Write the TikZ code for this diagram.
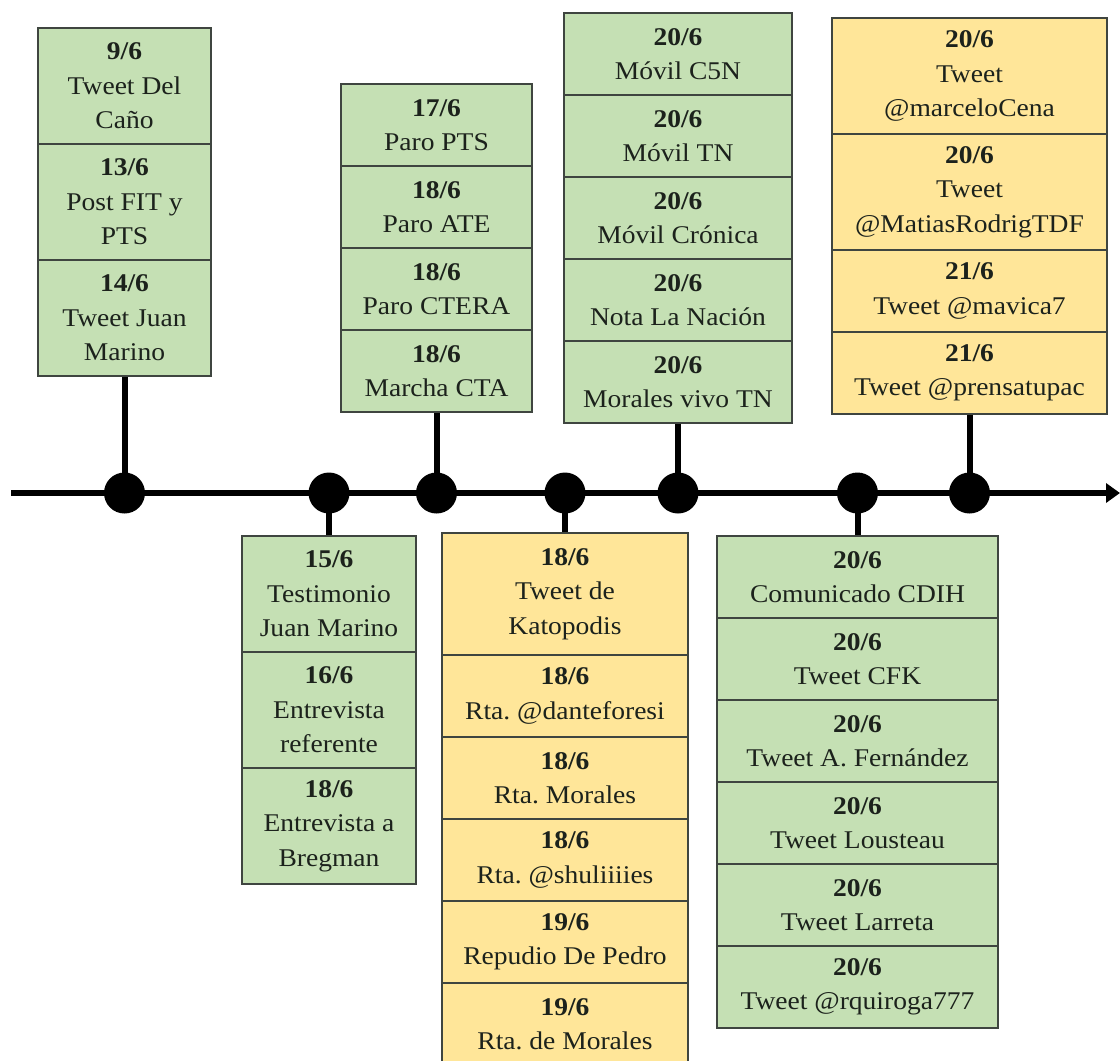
\documentclass[tikz,border=0pt]{standalone}
\usepackage{fontspec}
\setmainfont{Liberation Serif}[FakeStretch=1.08]
\usetikzlibrary{arrows.meta}
\definecolor{gfill}{HTML}{C5E0B4}
\definecolor{yfill}{HTML}{FFE699}
\definecolor{boxline}{HTML}{3F4540}
\definecolor{txt}{HTML}{1C221C}
\newcommand\evfont{\fontsize{25.5}{34.5}\selectfont\frenchspacing}
\newcommand\dt[1]{\textbf{#1}}
\frenchspacing
\begin{document}
\begin{tikzpicture}[x=1pt,y=-1pt,
  cell/.style={draw=boxline, line width=1.6pt, align=center, inner sep=0pt, font=\evfont, text=txt},
  gcell/.style={cell, fill=gfill},
  ycell/.style={cell, fill=yfill},
  stem/.style={line width=6pt, draw=black},
  evdot/.style={circle, fill=black, minimum size=41pt, inner sep=0pt},
  axis/.style={line width=6pt, draw=black, -{Triangle[length=14pt,width=19pt]}}
]
\useasboundingbox (0,0) rectangle (1120,1061);

% ---- box 1 (top) ----
\begin{scope}[every node/.style={gcell, minimum width=173pt, minimum height=116pt}]
\node (a1) at (124.5,86)  {\dt{9/6}\\Tweet Del\\Caño};
\node (a2) at (124.5,202) {\dt{13/6}\\Post FIT y\\PTS};
\node (a3) at (124.5,318) {\dt{14/6}\\Tweet Juan\\Marino};
\end{scope}

% ---- box 3 (top) ----
\begin{scope}[every node/.style={gcell, minimum width=191pt, minimum height=82pt}]
\node (c1) at (436.5,125) {\dt{17/6}\\Paro PTS};
\node (c2) at (436.5,207) {\dt{18/6}\\Paro ATE};
\node (c3) at (436.5,289) {\dt{18/6}\\Paro CTERA};
\node (c4) at (436.5,371) {\dt{18/6}\\Marcha CTA};
\end{scope}

% ---- box 5 (top) ----
\begin{scope}[every node/.style={gcell, minimum width=228pt, minimum height=82pt}]
\node (e1) at (678,54)  {\dt{20/6}\\Móvil C5N};
\node (e2) at (678,136) {\dt{20/6}\\Móvil TN};
\node (e3) at (678,218) {\dt{20/6}\\Móvil Crónica};
\node (e4) at (678,300) {\dt{20/6}\\Nota La Nación};
\node (e5) at (678,382) {\dt{20/6}\\Morales vivo TN};
\end{scope}

% ---- box 7 (top, yellow) ----
\begin{scope}[every node/.style={ycell, minimum width=275pt}]
\node[minimum height=116pt] (g1) at (969.5,76) {\dt{20/6}\\Tweet\\@marceloCena};
\node[minimum height=116pt] (g2) at (969.5,192)  {\dt{20/6}\\Tweet\\@MatiasRodrigTDF};
\node[minimum height=82pt]  (g3) at (969.5,291)  {\dt{21/6}\\Tweet @mavica7};
\node[minimum height=82pt]  (g4) at (969.5,373)  {\dt{21/6}\\Tweet @prensatupac};
\end{scope}

% ---- box 2 (bottom) ----
\begin{scope}[every node/.style={gcell, minimum width=174pt, minimum height=116pt}]
\node (b1) at (329,594) {\dt{15/6}\\Testimonio\\Juan Marino};
\node (b2) at (329,710) {\dt{16/6}\\Entrevista\\referente};
\node (b3) at (329,826) {\dt{18/6}\\Entrevista a\\Bregman};
\end{scope}

% ---- box 4 (bottom, yellow) ----
\begin{scope}[every node/.style={ycell, minimum width=246pt, minimum height=82pt}]
\node[minimum height=122pt] (d1) at (565,594) {\dt{18/6}\\Tweet de\\Katopodis};
\node (d2) at (565,696)  {\dt{18/6}\\Rta. @danteforesi};
\node (d3) at (565,778)  {\dt{18/6}\\Rta. Morales};
\node (d4) at (565,860)  {\dt{18/6}\\Rta. @shuliiiies};
\node (d5) at (565,942)  {\dt{19/6}\\Repudio De Pedro};
\node (d6) at (565,1024) {\dt{19/6}\\Rta. de Morales};
\end{scope}

% ---- box 6 (bottom) ----
\begin{scope}[every node/.style={gcell, minimum width=281pt, minimum height=82pt}]
\node (f1) at (857.5,577) {\dt{20/6}\\Comunicado CDIH};
\node (f2) at (857.5,659) {\dt{20/6}\\Tweet CFK};
\node (f3) at (857.5,741) {\dt{20/6}\\Tweet A. Fernández};
\node (f4) at (857.5,823) {\dt{20/6}\\Tweet Lousteau};
\node (f5) at (857.5,905) {\dt{20/6}\\Tweet Larreta};
\node (f6) at (857.5,987) {\dt{20/6}\\Tweet @rquiroga777};
\end{scope}

% ---- timeline ----
\coordinate (t0) at (11,493);
\coordinate (t1) at (1120,493);
\draw[axis] (t0) -- (t1);

\coordinate (p1) at (124.5,493);
\coordinate (p2) at (329,493);
\coordinate (p3) at (436.5,493);
\coordinate (p4) at (565,493);
\coordinate (p5) at (678,493);
\coordinate (p6) at (857.5,493);
\coordinate (p7) at (969.5,493);

\draw[stem] (a3.south) -- (p1);
\draw[stem] (b1.north) -- (p2);
\draw[stem] (c4.south) -- (p3);
\draw[stem] (d1.north) -- (p4);
\draw[stem] (e5.south) -- (p5);
\draw[stem] (f1.north) -- (p6);
\draw[stem] (g4.south) -- (p7);

\node[evdot] (n1) at (p1) {};
\node[evdot] (n2) at (p2) {};
\node[evdot] (n3) at (p3) {};
\node[evdot] (n4) at (p4) {};
\node[evdot] (n5) at (p5) {};
\node[evdot] (n6) at (p6) {};
\node[evdot] (n7) at (p7) {};
\end{tikzpicture}
\end{document}
